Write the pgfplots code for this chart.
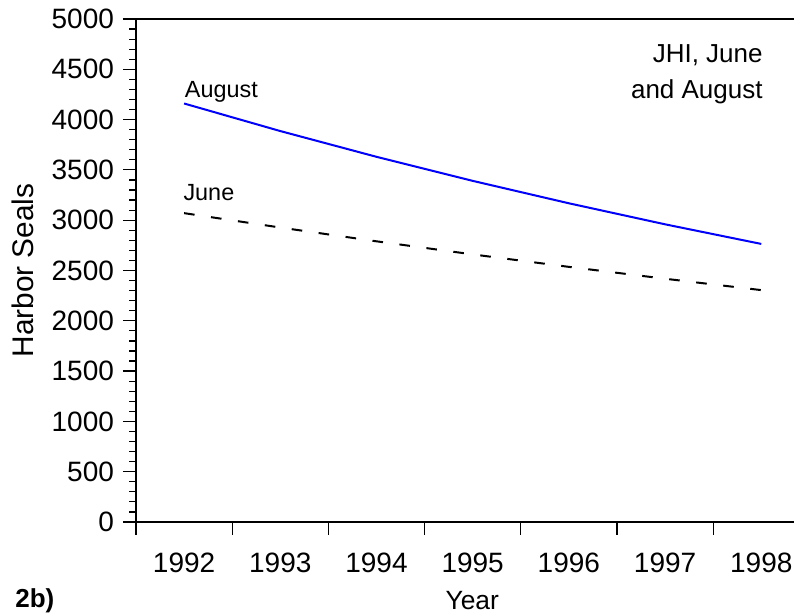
\documentclass[border=0pt]{standalone}
\usepackage{pgfplots}
\pgfplotsset{compat=1.18}
\usepackage{fontspec}
\setmainfont{Liberation Sans}
\definecolor{lineblue}{RGB}{0,0,255}
\begin{document}
\begin{tikzpicture}
\useasboundingbox (-68pt,-45.5pt) rectangle (329pt,261pt);
\begin{axis}[
  at={(0,0)}, anchor=south west,
  scale only axis, width=329pt, height=251.5pt,
  axis lines*=left,
  axis line style={line width=1pt},
  xmin=0.5, xmax=7.34, ymin=0, ymax=5000,
  xtick={0.5,1.5,...,6.5}, xticklabels={},
  extra x ticks={1,2,3,4,5,6,7},
  extra x tick labels={1992,1993,1994,1995,1996,1997,1998},
  extra x tick style={major tick length=0pt, xticklabel style={yshift=-12pt}},
  ytick={0,500,...,5000}, minor y tick num=4,
  yticklabel style={xshift=-1pt},
  tick align=outside,
  major tick length=6.5pt, minor tick length=3.3pt,
  tick style={line width=0.6pt, black},
  tick label style={font=\fontsize{14}{16}\selectfont},
  /pgf/number format/assume math mode=true,
  /pgf/number format/1000 sep={},
  clip=false,
]
\addplot[lineblue, line width=1pt] coordinates {
  (1,4160) (2,3886) (3,3630) (4,3391) (5,3168) (6,2959) (7,2764)};
\addplot[black, line width=1pt, dash pattern=on 5.3pt off 8.3pt] coordinates {
  (1,3070) (2,2927) (3,2790) (4,2660) (5,2536) (6,2418) (7,2305)};
\draw[line width=1pt] (rel axis cs:0,1) -- (rel axis cs:1,1);
\node[anchor=base west, inner sep=0pt, font=\fontsize{11.7}{13}\selectfont] at (axis cs:1.005,4218) {August};
\node[anchor=base west, inner sep=0pt, font=\fontsize{11.7}{13}\selectfont] at (axis cs:0.99,3200) {June};
\node[anchor=base east, inner sep=0pt, font=\fontsize{13}{15}\selectfont] at (axis cs:7.018,4563) {JHI, June};
\node[anchor=base east, inner sep=0pt, font=\fontsize{13}{15}\selectfont] at (axis cs:7.018,4205) {and August};
\node[rotate=90, font=\fontsize{14.9}{17}\selectfont] at (axis description cs:-0.172,0.5) {Harbor Seals};
\node[font=\fontsize{13.2}{15}\selectfont] at (axis description cs:0.511,-0.156) {Year};
\node[anchor=west, inner sep=0pt, font=\fontsize{13}{15}\bfseries] at (axis description cs:-0.184,-0.157) {2b)};
\end{axis}
\end{tikzpicture}
\end{document}
